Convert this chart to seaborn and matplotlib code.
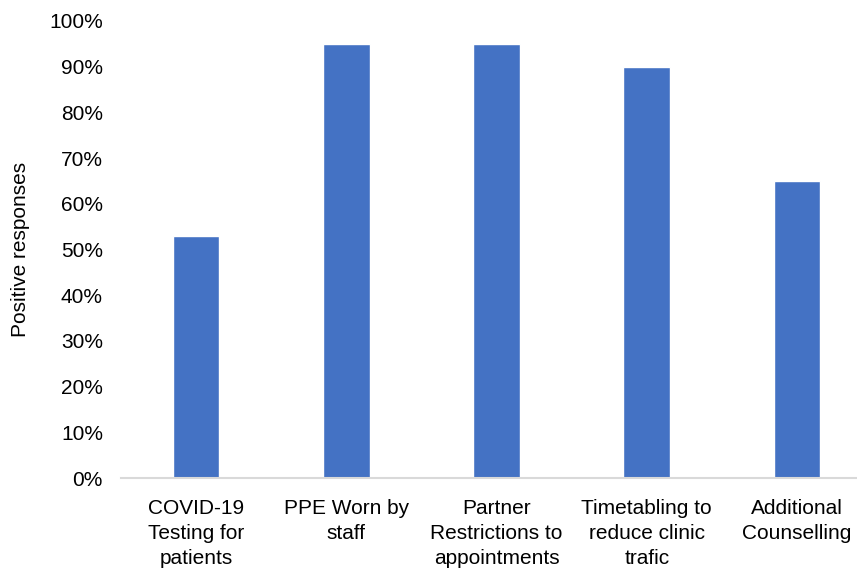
import matplotlib
matplotlib.use("Agg")
import matplotlib.pyplot as plt
from matplotlib.ticker import PercentFormatter
import seaborn as sns
import pandas as pd

categories = [
    "COVID-19\nTesting for\npatients",
    "PPE Worn by\nstaff",
    "Partner\nRestrictions to\nappointments",
    "Timetabling to\nreduce clinic\ntrafic",
    "Additional\nCounselling",
]
positive = [53, 95, 95, 90, 65]
y_ticks = [0, 10, 20, 30, 40, 50, 60, 70, 80, 90, 100]

df = pd.DataFrame({"category": categories, "positive": positive})

sns.set_theme(style="white")
plt.rcParams["font.family"] = ["Liberation Sans", "DejaVu Sans"]

fig = plt.figure(figsize=(8.57, 5.71), dpi=100)
ax = fig.add_axes([121 / 857, 1 - 478 / 571, 751 / 857, 457 / 571])

sns.barplot(data=df, x="category", y="positive", color="#4472C4",
            saturation=1, width=0.31, ax=ax)

ax.set_ylim(0, 100)
ax.set_yticks(y_ticks)
ax.yaxis.set_major_formatter(PercentFormatter(decimals=0))
ax.set_xlabel("")
ax.set_ylabel("Positive responses", fontsize=15, color="black")
ax.yaxis.set_label_coords(-0.121, 0.5)

for s in ["top", "right", "left"]:
    ax.spines[s].set_visible(False)
ax.spines["bottom"].set_color("#D9D9D9")
ax.spines["bottom"].set_linewidth(1.5)
ax.tick_params(axis="both", length=0, labelsize=15, colors="black")
ax.tick_params(axis="y", pad=13)
ax.tick_params(axis="x", pad=15)
for lbl in ax.get_xticklabels():
    lbl.set_linespacing(1.42)

fig.savefig("out.png", dpi=100)
